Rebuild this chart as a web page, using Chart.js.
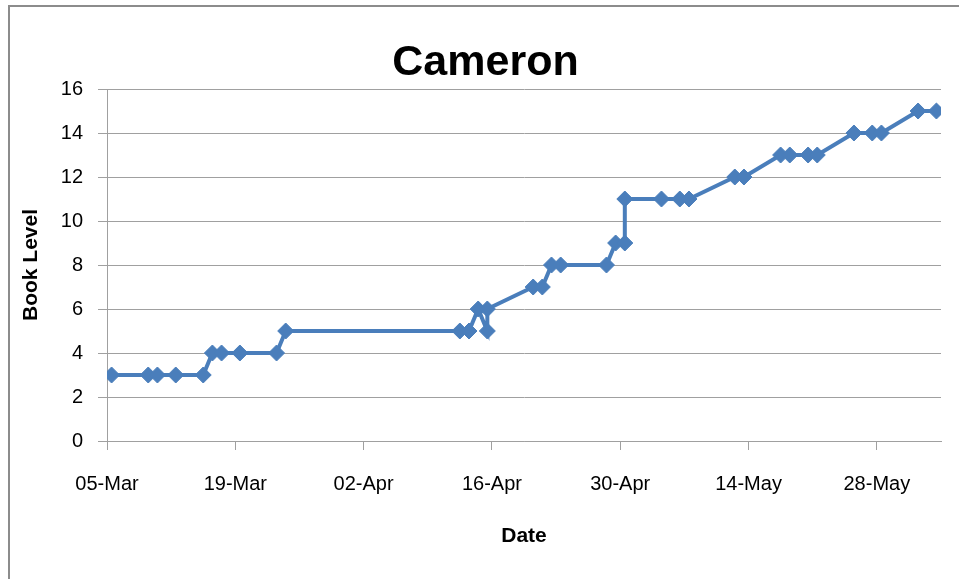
<!DOCTYPE html>
<html>
<head>
<meta charset="utf-8">
<script src="https://cdn.jsdelivr.net/npm/chart.js@4.4.0/dist/chart.umd.min.js"></script>
<style>
  html, body { margin: 0; padding: 0; background: #fff; overflow: hidden; }
  #wrap { position: relative; width: 959px; height: 579px; }
  #frame { position: absolute; left: 8px; top: 5px; width: 2000px; height: 2000px;
           border-left: 2px solid #8c8c8c; border-top: 2px solid #8c8c8c; }
  canvas { position: absolute; left: 0; top: 0; }
</style>
</head>
<body>
<div id="wrap">
  <div id="frame"></div>
  <canvas id="bookChart" width="959" height="579"></canvas>
</div>
<script>
// Reading record for Cameron
const startDate = '2011-03-05';
const axisDays = 91;
const tickStep = 14;
const tickLabels = ['05-Mar', '19-Mar', '02-Apr', '16-Apr', '30-Apr', '14-May', '28-May'];
const readDates = [
  '2011-03-05', '2011-03-09', '2011-03-10', '2011-03-12', '2011-03-15',
  '2011-03-16', '2011-03-17', '2011-03-19', '2011-03-23', '2011-03-24',
  '2011-04-12', '2011-04-13', '2011-04-14', '2011-04-15', '2011-04-15',
  '2011-04-20', '2011-04-21', '2011-04-22', '2011-04-23', '2011-04-28',
  '2011-04-29', '2011-04-30', '2011-04-30', '2011-05-04', '2011-05-06',
  '2011-05-07', '2011-05-12', '2011-05-13', '2011-05-17', '2011-05-18',
  '2011-05-20', '2011-05-21', '2011-05-25', '2011-05-27', '2011-05-28',
  '2011-06-01', '2011-06-03'
];
const bookLevels = [
  3, 3, 3, 3, 3,
  4, 4, 4, 4, 5,
  5, 5, 6, 5, 6,
  7, 7, 8, 8, 8,
  9, 9, 11, 11, 11,
  11, 12, 12, 13, 13,
  13, 13, 14, 14, 14,
  15, 15
];

function dayOf(d) {
  return Math.round((Date.parse(d) - Date.parse(startDate)) / 86400000);
}

const blue = '#4A7EBB';
const gridGrey = '#a0a0a0';
const fontFamily = '"Liberation Sans", Arial, sans-serif';

var ctx = document.getElementById('bookChart');
new Chart(ctx, {
    type: 'line',
    data: {
    datasets: [{
        label: 'Book Level',
        data: readDates.map((d, i) => ({x: dayOf(d), y: bookLevels[i]})),
        borderColor: blue,
        backgroundColor: blue,
        borderWidth: 4,
        tension: 0,
        pointStyle: 'rectRot',
        pointRadius: 8,
        pointBorderWidth: 1,
        pointBackgroundColor: blue,
        pointBorderColor: blue
    }]
    },
    options: {
    responsive: false,
    animation: false,
    events: [],
    layout: {
        padding: {left: 12, right: 0, top: 10, bottom: 0}
    },
    plugins: {
        legend: {display: false},
        tooltip: {enabled: false},
        title: {
            display: true,
            text: 'Cameron',
            color: '#000',
            font: {family: fontFamily, size: 43, weight: 'bold'},
            padding: {top: 27, bottom: 0.4}
        }
    },
    scales: {
        x: {
        type: 'linear',
        min: -0.5,
        max: axisDays - 0.5,
        afterBuildTicks: (scale) => {
            scale.ticks = tickLabels.map((_, i) => ({value: -0.5 + i * tickStep}));
        },
        afterFit: (scale) => { scale.height = 579 - 441; },
        ticks: {
            autoSkip: false,
            maxRotation: 0,
            padding: 22,
            color: '#000',
            font: {family: fontFamily, size: 20},
            callback: (value, index) => tickLabels[index]
        },
        grid: {
            drawOnChartArea: false,
            drawTicks: true,
            tickLength: 9,
            color: gridGrey,
            lineWidth: 1
        },
        border: {display: true, color: gridGrey, width: 1},
        title: {
            display: true,
            text: 'Date',
            color: '#000',
            font: {family: fontFamily, size: 21, weight: 'bold'},
            padding: {top: 0, bottom: 30}
        }
        },
        y: {
        min: 0,
        max: 16,
        afterFit: (scale) => { scale.width = 107 - 12; },
        ticks: {
            stepSize: 2,
            padding: 15,
            color: '#000',
            font: {family: fontFamily, size: 20}
        },
        grid: {
            color: gridGrey,
            lineWidth: 1,
            tickLength: 9
        },
        border: {display: true, color: gridGrey, width: 1},
        title: {
            display: true,
            text: 'Book Level',
            color: '#000',
            font: {family: fontFamily, size: 21, weight: 'bold'},
            padding: {top: 7, bottom: 0}
        }
        },
        yRight: {
        position: 'right',
        display: true,
        afterFit: (scale) => { scale.width = 18; },
        ticks: {display: false},
        grid: {display: false, drawTicks: false},
        border: {display: false}
        }
    }
    }
});
</script>
</body>
</html>
